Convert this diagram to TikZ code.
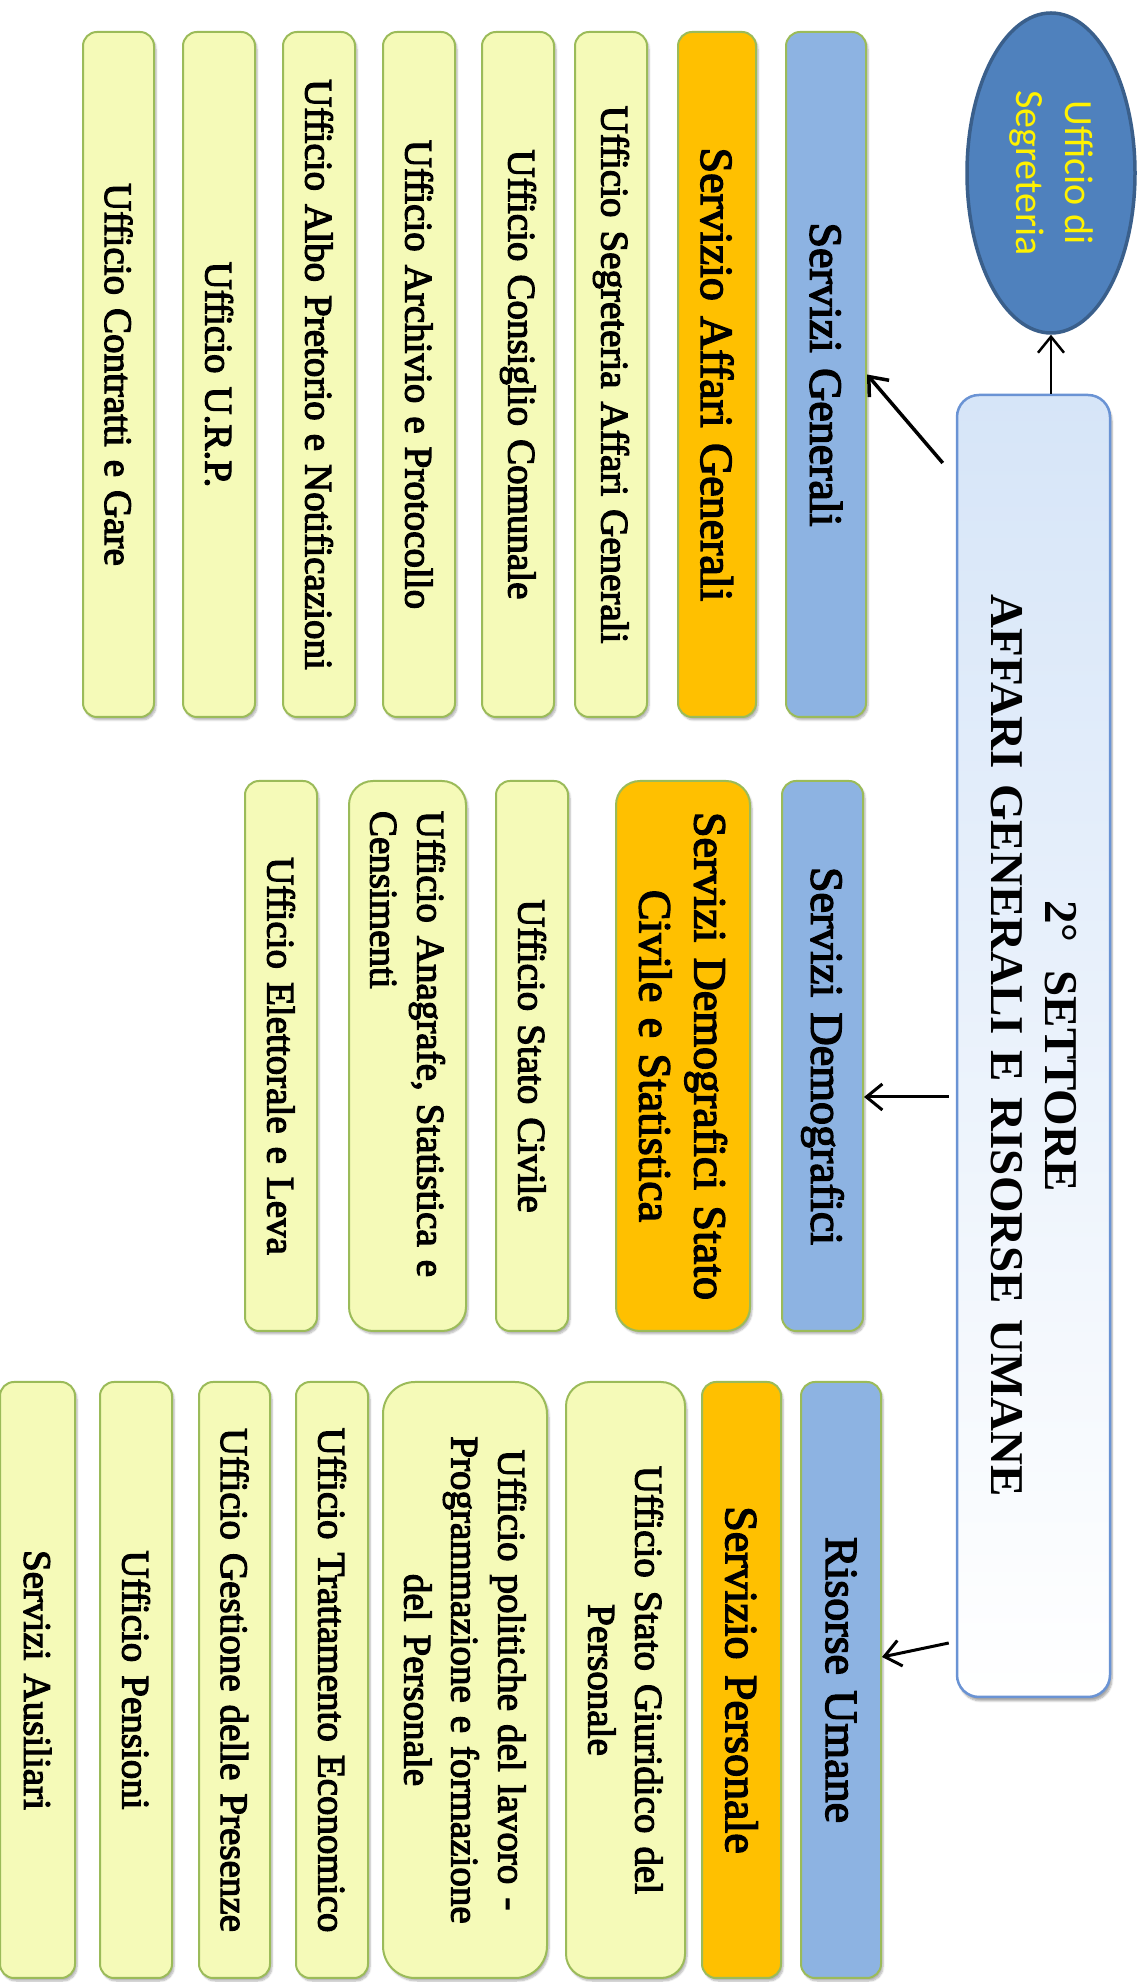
\documentclass[tikz,border=0pt]{standalone}
\usepackage{fontspec}
\setmainfont{Liberation Serif}
\newfontfamily\boxfont{Liberation Serif}[RawFeature={embolden=3}]
\newfontfamily\ellfont{Carlito}
\usetikzlibrary{arrows.meta,shapes.geometric,shadows.blur}
\definecolor{hdrblue}{HTML}{8DB3E2}
\definecolor{orng}{HTML}{FFC000}
\definecolor{yel}{HTML}{F5FAB8}
\definecolor{boxgreen}{HTML}{9BBB59}
\definecolor{mainblue}{HTML}{6A93D4}
\definecolor{mainlight}{HTML}{D6E5F8}
\definecolor{ellfill}{HTML}{4F81BD}
\definecolor{ellline}{HTML}{3A5F8B}
\newcommand\tightsp{\spaceskip=0.18em plus 0.05em\relax}
\tikzset{
  org/.style={rotate=-90, draw=boxgreen, line width=2pt, align=center, inner sep=0pt,
    text=black, rounded corners=14pt,
    blur shadow={shadow xshift=2pt, shadow yshift=-3pt, shadow opacity=30, shadow blur steps=6}},
  hdr/.style={org, fill=hdrblue, font=\boxfont\fontsize{46}{55}\selectfont\tightsp},
  srv/.style={org, fill=orng, font=\boxfont\fontsize{46}{55}\selectfont\tightsp},
  uff/.style={org, fill=yel, font=\boxfont\fontsize{39}{47}\selectfont\tightsp},
  mainbox/.style={rotate=-90, draw=mainblue, line width=2.5pt, rounded corners=22pt,
    bottom color=white, top color=mainlight, align=center, inner sep=0pt,
    font=\fontsize{47}{54}\selectfont\bfseries,
    blur shadow={shadow xshift=2pt, shadow yshift=-4pt, shadow opacity=35, shadow blur steps=6}},
  ellbox/.style={rotate=-90, ellipse, draw=ellline, line width=3.5pt, fill=ellfill,
    inner sep=0pt, align=center, text=yellow, font=\ellfont\fontsize{40}{49}\selectfont},
  conn/.style={line width=3pt, -{Straight Barb[length=16pt,width=26pt]}},
}
\begin{document}
\begin{tikzpicture}[x=1pt,y=1pt]
\useasboundingbox (0,0) rectangle (1144,1982);
% main
\node[mainbox, minimum width=1302pt, minimum height=153pt, text width=1250pt] (main) at (1033.5,936)
  {2°\hspace{0.6em}SETTORE\\AFFARI GENERALI E RISORSE UMANE};
\node[ellbox, minimum width=320pt, minimum height=168pt] (ell) at (1051,1809) {Ufficio di\\Segreteria};
% column 1
\node[hdr, minimum width=685pt, minimum height=80pt, text width=640pt] (sg) at (826,1607.5) {Servizi Generali};
\node[srv, minimum width=685pt, minimum height=78pt, text width=640pt] (sag) at (717,1607.5) {Servizio Affari Generali};
\node[uff, minimum width=685pt, minimum height=72pt, text width=640pt] (u11) at (611,1607.5) {Ufficio Segreteria Affari Generali};
\node[uff, minimum width=685pt, minimum height=72pt, text width=640pt] (u12) at (518,1607.5) {Ufficio Consiglio Comunale};
\node[uff, minimum width=685pt, minimum height=72pt, text width=640pt] (u13) at (419,1607.5) {Ufficio Archivio e Protocollo};
\node[uff, minimum width=685pt, minimum height=72pt, text width=640pt] (u14) at (319,1607.5) {Ufficio Albo Pretorio e Notificazioni};
\node[uff, minimum width=685pt, minimum height=72pt, text width=640pt] (u15) at (219,1607.5) {Ufficio U.R.P.};
\node[uff, minimum width=685pt, minimum height=71pt, text width=640pt] (u16) at (118.5,1607.5) {Ufficio Contratti e Gare};
% column 2
\node[hdr, minimum width=550pt, minimum height=81pt, text width=500pt] (sd) at (822.5,926) {Servizi Demografici};
\node[srv, minimum width=550pt, minimum height=134pt, text width=500pt, rounded corners=24pt] (sdsc) at (683,926) {Servizi Demografici Stato\\Civile e Statistica};
\node[uff, minimum width=550pt, minimum height=72pt, text width=500pt] (u21) at (532,926) {Ufficio Stato Civile};
\node[uff, minimum width=550pt, minimum height=117pt, text width=490pt, rounded corners=24pt, align=left] (u22) at (407.5,926) {Ufficio Anagrafe, Statistica e\\Censimenti};
\node[uff, minimum width=550pt, minimum height=72pt, text width=500pt] (u23) at (281,926) {Ufficio Elettorale e Leva};
% column 3
\node[hdr, minimum width=596pt, minimum height=80pt, text width=550pt] (ru) at (841,302) {Risorse Umane};
\node[srv, minimum width=596pt, minimum height=79pt, text width=550pt] (sp) at (741.5,302) {Servizio Personale};
\node[uff, minimum width=596pt, minimum height=119pt, text width=550pt, rounded corners=24pt] (u31) at (625.5,302) {Ufficio Stato Giuridico del\\Personale};
\node[uff, minimum width=596pt, minimum height=164pt, text width=560pt, rounded corners=32pt] (u32) at (465,302) {Ufficio politiche del lavoro -\\Programmazione e formazione\\del Personale};
\node[uff, minimum width=596pt, minimum height=72pt, text width=560pt] (u33) at (332,302) {Ufficio Trattamento Economico};
\node[uff, minimum width=596pt, minimum height=71pt, text width=560pt] (u34) at (234.5,302) {Ufficio Gestione delle Presenze};
\node[uff, minimum width=596pt, minimum height=72pt, text width=560pt] (u35) at (136,302) {Ufficio Pensioni};
\node[uff, minimum width=596pt, minimum height=75pt, text width=560pt] (u36) at (37.5,302) {Servizi Ausiliari};
% connectors
\draw[conn, line width=2.5pt] (ell.east |- main.west) -- (ell.east);
\draw[conn, line width=3.5pt] ([shift={(-13,583)}]main.south) -- (sg.north);
\draw[conn] ([shift={(-7,-51)}]main.south) -- ([yshift=-41pt]sd.north);
\draw[conn] ([shift={(-7,-597)}]main.south) -- ([yshift=23pt]ru.north);
\end{tikzpicture}
\end{document}
